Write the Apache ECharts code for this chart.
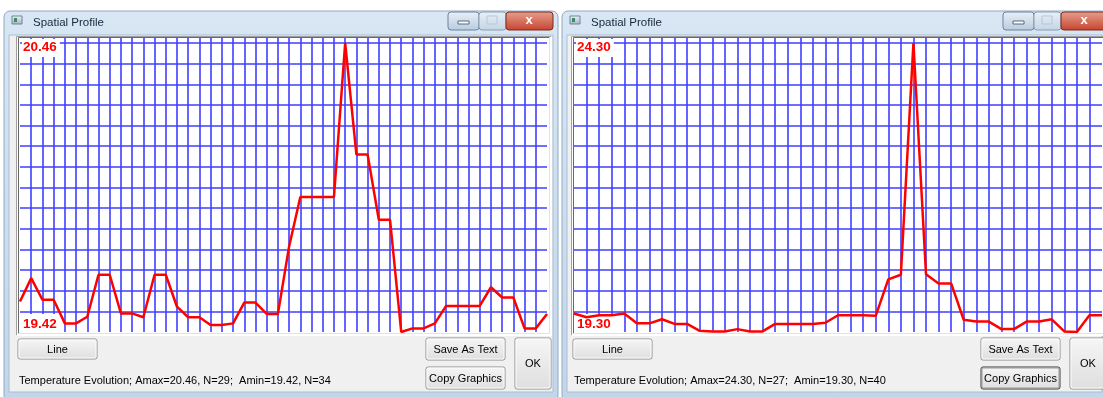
<!DOCTYPE html>
<html><head><meta charset="utf-8">
<script src="https://cdn.jsdelivr.net/npm/echarts@6/dist/echarts.min.js"></script>
<style>html,body{margin:0;padding:0;background:#fff;overflow:hidden}#c{width:1103px;height:397px}</style>
</head><body><div id="c"></div>
<script>
// ---- data ----
const windowTitle = 'Spatial Profile';
const statusPrefix = 'Temperature Evolution';
const leftValues = [19.53, 19.614, 19.536, 19.536, 19.451, 19.451, 19.475, 19.626, 19.626, 19.487,
  19.487, 19.473, 19.626, 19.626, 19.511, 19.473, 19.473, 19.445, 19.445, 19.451,
  19.526, 19.526, 19.485, 19.485, 19.728, 19.906, 19.906, 19.906, 19.906, 20.46,
  20.059, 20.059, 19.824, 19.824, 19.42, 19.433, 19.433, 19.451, 19.514, 19.514,
  19.514, 19.514, 19.581, 19.544, 19.544, 19.433, 19.433, 19.485];
const rightValues = [19.62, 19.555, 19.59, 19.59, 19.62, 19.45, 19.45, 19.52, 19.44, 19.44,
  19.32, 19.31, 19.31, 19.35, 19.31, 19.31, 19.44, 19.44, 19.44, 19.44,
  19.46, 19.59, 19.59, 19.59, 19.58, 20.21, 20.29, 24.30, 20.30, 20.14,
  20.14, 19.51, 19.48, 19.48, 19.35, 19.35, 19.48, 19.48, 19.52, 19.31,
  19.30, 19.59, 19.59];
const gridRows = 14;           // horizontal grid divisions
const buttonLabels = ['Line', 'Save As Text', 'Copy Graphics', 'OK'];

function stats(v) {
  let mx = -Infinity, mn = Infinity, imx = 0, imn = 0;
  v.forEach((d, i) => { if (d > mx) { mx = d; imx = i; } if (d < mn) { mn = d; imn = i; } });
  return { mx, mn, imx, imn };
}
const panels = [
  { values: leftValues, ox: 0, fx: 4, fw: 554, gl: 20, gw: 527 },
  { values: rightValues, ox: 555, fx: 562, fw: 545, gl: 574, gw: 528 }
];
const GT = 38, GH = 294, PLOT_H = 289;   // vertical lines start 5px above the top row line
const extra = (GH - PLOT_H) / PLOT_H;

const FONT = "'Liberation Sans', Arial, sans-serif";
function txt(x, y, text, font, fill, align, valign, more) {
  return Object.assign({ type: 'text', z: 5, style: Object.assign({
    x, y, text, font, fill: fill || '#000',
    align: align || 'left', textAlign: align || 'left',
    verticalAlign: valign || 'middle', textVerticalAlign: valign || 'middle'
  }, more || {}) });
}
function rect(x, y, w, h, fill, stroke, z, r) {
  return { type: 'rect', z: z == null ? 0 : z, shape: { x, y, width: w, height: h, r: r || 0 },
    style: { fill, stroke: stroke || null, lineWidth: stroke ? 1 : 0 } };
}
function vgrad(a, b) { return { type: 'linear', x: 0, y: 0, x2: 0, y2: 1, colorStops: [{ offset: 0, color: a }, { offset: 1, color: b }] }; }
function button(x, y, w, h, label, focused) {
  return [
    rect(x, y, w, h, vgrad('#f6f6f6', '#dedede'), focused ? '#3a3a3a' : '#8c8c8c', 1, 2),
    rect(x + 1, y + 1, w - 2, h - 2, 'rgba(0,0,0,0)', focused ? '#9a9a9a' : '#fdfdfd', 1, 1),
    txt(x + w / 2, y + h / 2 + 0.5, label, '11px ' + FONT, '#000', 'center', 'middle')
  ];
}

const graphics = [];
const grids = [], xAxes = [], yAxes = [], series = [];
panels.forEach((p, k) => {
  const ox = p.ox, s = stats(p.values);
  // window frame
  graphics.push(rect(p.fx, 11, p.fw, 390, vgrad('#d9e6f3', '#c2d6ea'), '#8ea9c6', 0, 6));
  graphics.push(rect(p.fx + 5, 35, p.fw - 10, 357, '#f0f0f0', '#a9bed4', 0));
  // title bar
  graphics.push(rect(p.fx + 8, 16, 10, 8, vgrad('#eef3f8', '#9fb3c8'), '#6f859c', 1));
  graphics.push(rect(p.fx + 10, 18, 3, 4, '#3d8c5a', null, 1));
  graphics.push(txt(p.fx + 29, 23, windowTitle, '11.5px ' + FONT, '#15283d', 'left', 'middle'));
  // window controls
  graphics.push(rect(ox + 448, 12, 31, 18, vgrad('#e9f0f7', '#b8cbe0'), '#6d829a', 1, 3));
  graphics.push(rect(ox + 458, 21, 11, 3, '#ffffff', '#55687e', 2));
  graphics.push(rect(ox + 479, 12, 27, 18, vgrad('#e9f0f7', '#c4d4e4'), '#8b9db2', 1, 3));
  graphics.push(rect(ox + 487, 16, 10, 8, 'rgba(0,0,0,0)', '#b7c6d6', 2));
  graphics.push(rect(ox + 506, 12, 47, 18, vgrad('#e7a08f', '#c5432d'), '#7d2a1c', 1, 3));
  graphics.push(txt(ox + 529, 20, 'x', 'bold 13px ' + FONT, '#ffffff', 'center', 'middle'));
  // sunken plot frame
  graphics.push(rect(ox + 16, 36, 536, 300, '#ffffff', null, 0));
  graphics.push({ type: 'polyline', z: 1, shape: { points: [[ox + 16.5, 335.5], [ox + 16.5, 36.5], [ox + 551.5, 36.5]] }, style: { stroke: '#a0a0a0', lineWidth: 1, fill: null } });
  graphics.push({ type: 'polyline', z: 1, shape: { points: [[ox + 18.5, 333.5], [ox + 18.5, 37.5], [ox + 549.5, 37.5]] }, style: { stroke: '#696969', lineWidth: 1, fill: null } });
  graphics.push({ type: 'polyline', z: 1, shape: { points: [[ox + 16.5, 335.5], [ox + 551.5, 335.5], [ox + 551.5, 36.5]] }, style: { stroke: '#ffffff', lineWidth: 1, fill: null } });
  graphics.push({ type: 'polyline', z: 1, shape: { points: [[ox + 18.5, 333.5], [ox + 549.5, 333.5], [ox + 549.5, 37.5]] }, style: { stroke: '#e3e3e3', lineWidth: 1, fill: null } });
  // value labels (white boxes over the grid)
  const lt = txt(p.gl + 2, 39, s.mx.toFixed(2), 'bold 13.5px ' + FONT, '#ff0000', 'left', 'top', { backgroundColor: '#ffffff', padding: [1, 3, 3, 1] });
  const lb = txt(p.gl + 2, 332, s.mn.toFixed(2), 'bold 13.5px ' + FONT, '#ff0000', 'left', 'bottom', { backgroundColor: '#ffffff', padding: [3, 3, 1, 1] });
  lt.z = 2; lb.z = 2; graphics.push(lt, lb);
  // buttons
  button(ox + 18, 339, 79, 20, buttonLabels[0], false).forEach(g => graphics.push(g));
  button(ox + 426, 338, 79, 22, buttonLabels[1], false).forEach(g => graphics.push(g));
  button(ox + 426, 367, 79, 22, buttonLabels[2], k === 1).forEach(g => graphics.push(g));
  button(ox + 515, 338, 36, 51, buttonLabels[3], false).forEach(g => graphics.push(g));
  // status text
  graphics.push(txt(ox + 19, 381, statusPrefix + '; Amax=' + s.mx.toFixed(2) + ', N=' + s.imx + ';  Amin=' + s.mn.toFixed(2) + ', N=' + s.imn,
    '11px ' + FONT, '#000', 'left', 'middle'));

  // chart
  grids.push({ left: p.gl, top: GT, width: p.gw, height: GH, containLabel: false, show: false });
  const n = p.values.length - 1;
  xAxes.push({ gridIndex: k, type: 'value', min: 0, max: n, interval: 1, z: 1,
    axisLine: { show: false }, axisTick: { show: false }, axisLabel: { show: false },
    splitLine: { show: true, showMinLine: false, showMaxLine: false, lineStyle: { color: '#3f3fff', width: 1.6 } } });
  yAxes.push({ gridIndex: k, type: 'value', min: s.mn, max: s.mx + (s.mx - s.mn) * extra, z: 1,
    axisLine: { show: false }, axisTick: { show: false }, axisLabel: { show: false }, splitLine: { show: false } });
  yAxes.push({ gridIndex: k, type: 'value', min: 0, max: gridRows * (1 + extra), interval: 1, z: 1,
    axisLine: { show: false }, axisTick: { show: false }, axisLabel: { show: false },
    splitLine: { show: true, showMinLine: false, showMaxLine: false, lineStyle: { color: '#3f3fff', width: 1.6 } } });
  series.push({ type: 'line', xAxisIndex: k, yAxisIndex: k * 2, z: 3,
    data: p.values.map((v, i) => [i, v]), showSymbol: false, symbol: 'none',
    lineStyle: { color: '#ff0000', width: 2.5 }, animation: false, silent: true });
});

const chart = echarts.init(document.getElementById('c'), null, { renderer: 'canvas' });
chart.setOption({
  animation: false,
  backgroundColor: '#ffffff',
  grid: grids, xAxis: xAxes, yAxis: yAxes, series,
  graphic: { elements: graphics }
});
</script></body></html>
